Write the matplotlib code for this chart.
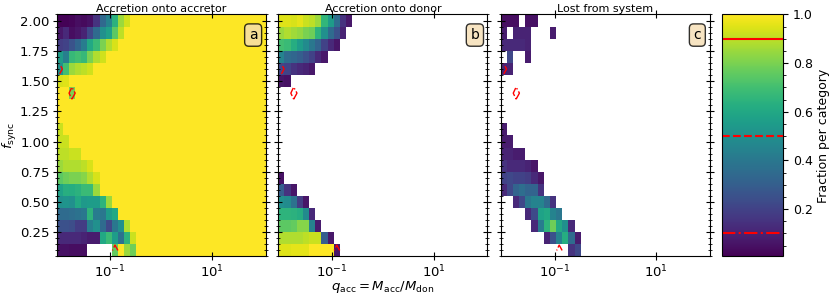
import numpy as np
import matplotlib
matplotlib.use("Agg")
import matplotlib.pyplot as plt
from matplotlib.ticker import MultipleLocator, FormatStrFormatter, NullLocator, FixedLocator

# simulation grid
q_acc = np.logspace(-2, 2, 34)
f_sync = np.round(np.linspace(0.1, 2.0, 20), 2)

# fraction accreted onto the donor; rows from f_sync = 2.0 down to 0.1,
# only the leading (non-empty) q_acc columns are listed
donor_rows = [
    [0.95, 0.95, 0.94, 0.96, 0.92, 0.90, 0.85, 0.66, 0.55, 0.36, 0.15, 0.07],  # 2.0
    [0.85, 0.88, 0.86, 0.84, 0.80, 0.78, 0.65, 0.50, 0.35, 0.25, 0.10],  # 1.9
    [0.70, 0.68, 0.62, 0.55, 0.48, 0.40, 0.32, 0.20, 0.12, 0.06],  # 1.8
    [0.45, 0.35, 0.33, 0.30, 0.25, 0.20, 0.12, 0.07],  # 1.7
    [0.22, 0.20, 0.15, 0.12, 0.10, 0.07],  # 1.6
    [0.06, 0.05],  # 1.5
    [], [], [], [], [], [], [],  # 1.4 - 0.8
    [0.05],  # 0.7
    [0.30, 0.15, 0.06],  # 0.6
    [0.50, 0.48, 0.38, 0.18, 0.06],  # 0.5
    [0.65, 0.65, 0.64, 0.62, 0.48, 0.12],  # 0.4
    [0.75, 0.75, 0.76, 0.82, 0.82, 0.45, 0.08],  # 0.3
    [0.88, 0.88, 0.88, 0.88, 0.90, 0.92, 0.92, 0.30, 0.07],  # 0.2
    [0.95, 0.95, 0.96, 0.96, 0.96, 1.0, 1.0, 1.0, 1.0, 0.06],  # 0.1
]

# fraction lost from the system, same layout
lost_rows = [
    [0.04, 0.04, 0.04, 0, 0.05, 0.05],  # 2.0
    [0.08, 0, 0.10, 0.10, 0.10, 0, 0, 0, 0.08],  # 1.9
    [0.12, 0.12, 0.12, 0.12, 0.10],  # 1.8
    [0, 0.22, 0, 0, 0.08],  # 1.7
    [0.10, 0.10],  # 1.6
    [], [], [], [],  # 1.5 - 1.2
    [0.08],  # 1.1
    [0.08, 0.08],  # 1.0
    [0.10, 0.10, 0.08, 0.08],  # 0.9
    [0.15, 0.12, 0.12, 0.12, 0.10, 0.06],  # 0.8
    [0.20, 0.22, 0.20, 0.20, 0.18, 0.12, 0.06],  # 0.7
    [0.12, 0.22, 0.32, 0.36, 0.32, 0.32, 0.15],  # 0.6
    [0, 0, 0.12, 0.22, 0.40, 0.45, 0.45, 0.35, 0.15],  # 0.5
    [0, 0, 0, 0, 0.12, 0.23, 0.58, 0.60, 0.45, 0.40],  # 0.4
    [0, 0, 0, 0, 0, 0.12, 0.42, 0.65, 0.78, 0.60, 0.50, 0.12],  # 0.3
    [0, 0, 0, 0, 0, 0, 0, 0.10, 0.25, 0.45, 0.62, 0.35, 0.08],  # 0.2
    [0, 0, 0, 0, 0, 0, 0, 0, 0, 0, 0, 0.15, 0.22],  # 0.1
]

# remaining (unclassified) fraction, only non-zero in a few cells
other_f = [1.6, 1.4, 0.1]
other_col = [0, 2, 9]
other_val = [0.17, 0.20, 0.18]

levels = [0.1, 0.5, 0.9]
level_styles = ['-.', '--', '-']

titles = ['Accretion onto accretor', 'Accretion onto donor', 'Lost from system']
letters = ['a', 'b', 'c']


def to_grid(rows):
    grid = np.zeros((len(f_sync), len(q_acc)))
    for i, row in enumerate(rows[::-1]):
        grid[i, :len(row)] = row
    return grid


donor = to_grid(donor_rows)
lost = to_grid(lost_rows)
other = np.zeros_like(donor)
for f, col, val in zip(other_f, other_col, other_val):
    other[np.argmin(np.abs(f_sync - f)), col] = val
accretor = np.clip(1.0 - donor - lost - other, 0, 1)

log_q = np.log10(q_acc)
step = log_q[1] - log_q[0]
q_edges = 10 ** np.append(log_q - step / 2, log_q[-1] + step / 2)
f_edges = np.append(f_sync - 0.05, f_sync[-1] + 0.05)

fig = plt.figure(figsize=(8.3, 2.94), dpi=100)
axes = [fig.add_axes([left, 0.1276, 0.252, 0.8231]) for left in (0.0681, 0.3353, 0.6033)]
cax = fig.add_axes([0.8702, 0.1276, 0.0735, 0.8231])

for ax, data, title, letter in zip(axes, [accretor, donor, lost], titles, letters):
    ax.set_xscale('log')
    mesh = ax.pcolormesh(q_edges, f_edges, np.ma.masked_less_equal(data, 0.005),
                         cmap='viridis', vmin=0.005, vmax=1.0)
    ax.contour(q_acc, f_sync, other, levels=levels, colors='red',
               linestyles=level_styles, linewidths=1.0)
    ax.set_xlim(q_edges[0], q_edges[-1])
    ax.set_ylim(f_edges[0], f_edges[-1])
    ax.xaxis.set_major_locator(FixedLocator([0.1, 10]))
    ax.xaxis.set_minor_locator(NullLocator())
    ax.yaxis.set_major_locator(MultipleLocator(0.25))
    ax.yaxis.set_minor_locator(MultipleLocator(0.05))
    ax.yaxis.set_major_formatter(FormatStrFormatter('%.2f'))
    ax.tick_params(which='both', direction='inout', top=True, right=True, labelsize=9.5)
    ax.tick_params(which='major', length=6)
    ax.tick_params(which='minor', length=3)
    ax.tick_params(axis='x', pad=2)
    ax.tick_params(axis='y', pad=2)
    ax.set_title(title, fontsize=8, pad=1)
    ax.text(0.94, 0.915, letter, transform=ax.transAxes, ha='center', va='center',
            fontsize=10, bbox=dict(boxstyle='round', facecolor='wheat', alpha=0.8))

for ax in axes[1:]:
    ax.tick_params(labelleft=False)

axes[0].set_ylabel(r'$f_{\rm sync}$', fontsize=9.5, labelpad=1)
axes[1].set_xlabel(r'$q_{\rm acc} = M_{\rm acc}/M_{\rm don}$', fontsize=9.5, labelpad=-1)

cb = fig.colorbar(mesh, cax=cax)
cb.set_label('Fraction per category', fontsize=9, labelpad=3)
cb.ax.tick_params(labelsize=9)
cb.minorticks_on()
for level, style in zip(levels, level_styles):
    cax.axhline(level, color='red', ls=style, lw=1.5)

fig.savefig('out.png', dpi=100)
